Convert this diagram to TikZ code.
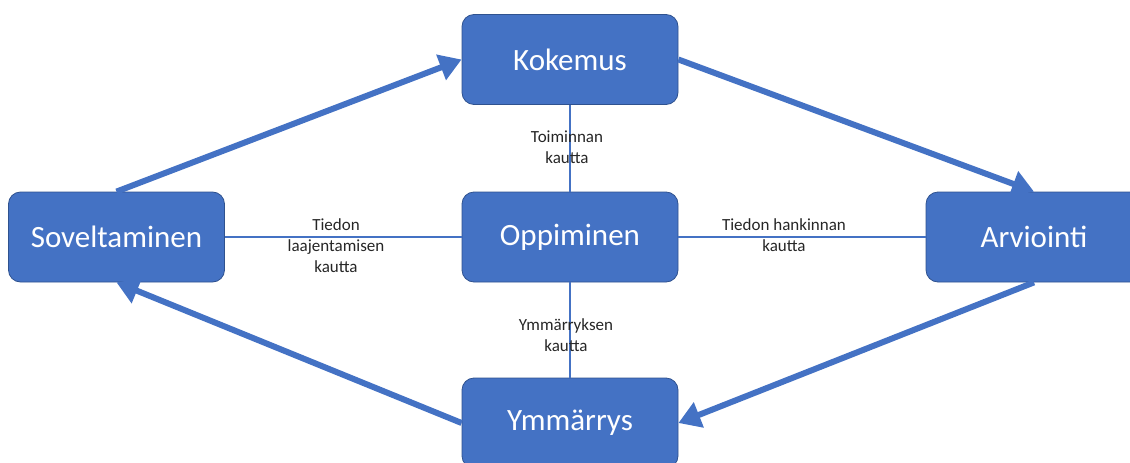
\documentclass[tikz,border=0pt]{standalone}
\usepackage{fontspec}
\setmainfont{Carlito}
\usetikzlibrary{arrows.meta}
\definecolor{boxblue}{HTML}{4472C4}
\definecolor{boxedge}{HTML}{2F528F}
\tikzset{
  box/.style={rectangle, rounded corners=12pt, fill=boxblue, draw=boxedge, line width=0.8pt,
    minimum width=216pt, minimum height=90pt, text=white, font=\fontsize{31}{36}\selectfont},
  arr/.style={draw=boxblue, line width=6pt, -{Triangle[length=22pt,width=26pt]}},
  link/.style={draw=boxblue, line width=1.3pt},
  lbl/.style={align=center, font=\fontsize{17}{21}\selectfont, text=black!85}
}
\begin{document}
\begin{tikzpicture}[x=1pt,y=-1pt]
\useasboundingbox (0,0) rectangle (1130,463);
\node[box] (kok) at (570,59.5) {Kokemus};
\node[box] (opp) at (570,237) {Oppiminen};
\node[box] (sov) at (116.5,237) {Soveltaminen};
\node[box] (arv) at (1034,237) {Arviointi};
\node[box] (ymm) at (570,423) {Ymmärrys};
\draw[link] (opp.north) -- (kok.south);
\draw[link] (opp.south) -- (ymm.north);
\draw[link] (opp.west) -- (sov.east);
\draw[link] (opp.east) -- (arv.west);
\draw[arr] (sov.north) -- (kok.west);
\draw[arr] (kok.east) -- (arv.north);
\draw[arr] (arv.south) -- (ymm.east);
\draw[arr] (ymm.west) -- (sov.south);
\node[lbl] (l1) at (567,147) {Toiminnan\\kautta};
\node[lbl] (l2) at (336,246) {Tiedon\\laajentamisen\\kautta};
\node[lbl] (l3) at (784,235) {Tiedon hankinnan\\kautta};
\node[lbl] (l4) at (566,335) {Ymmärryksen\\kautta};
\end{tikzpicture}
\end{document}
